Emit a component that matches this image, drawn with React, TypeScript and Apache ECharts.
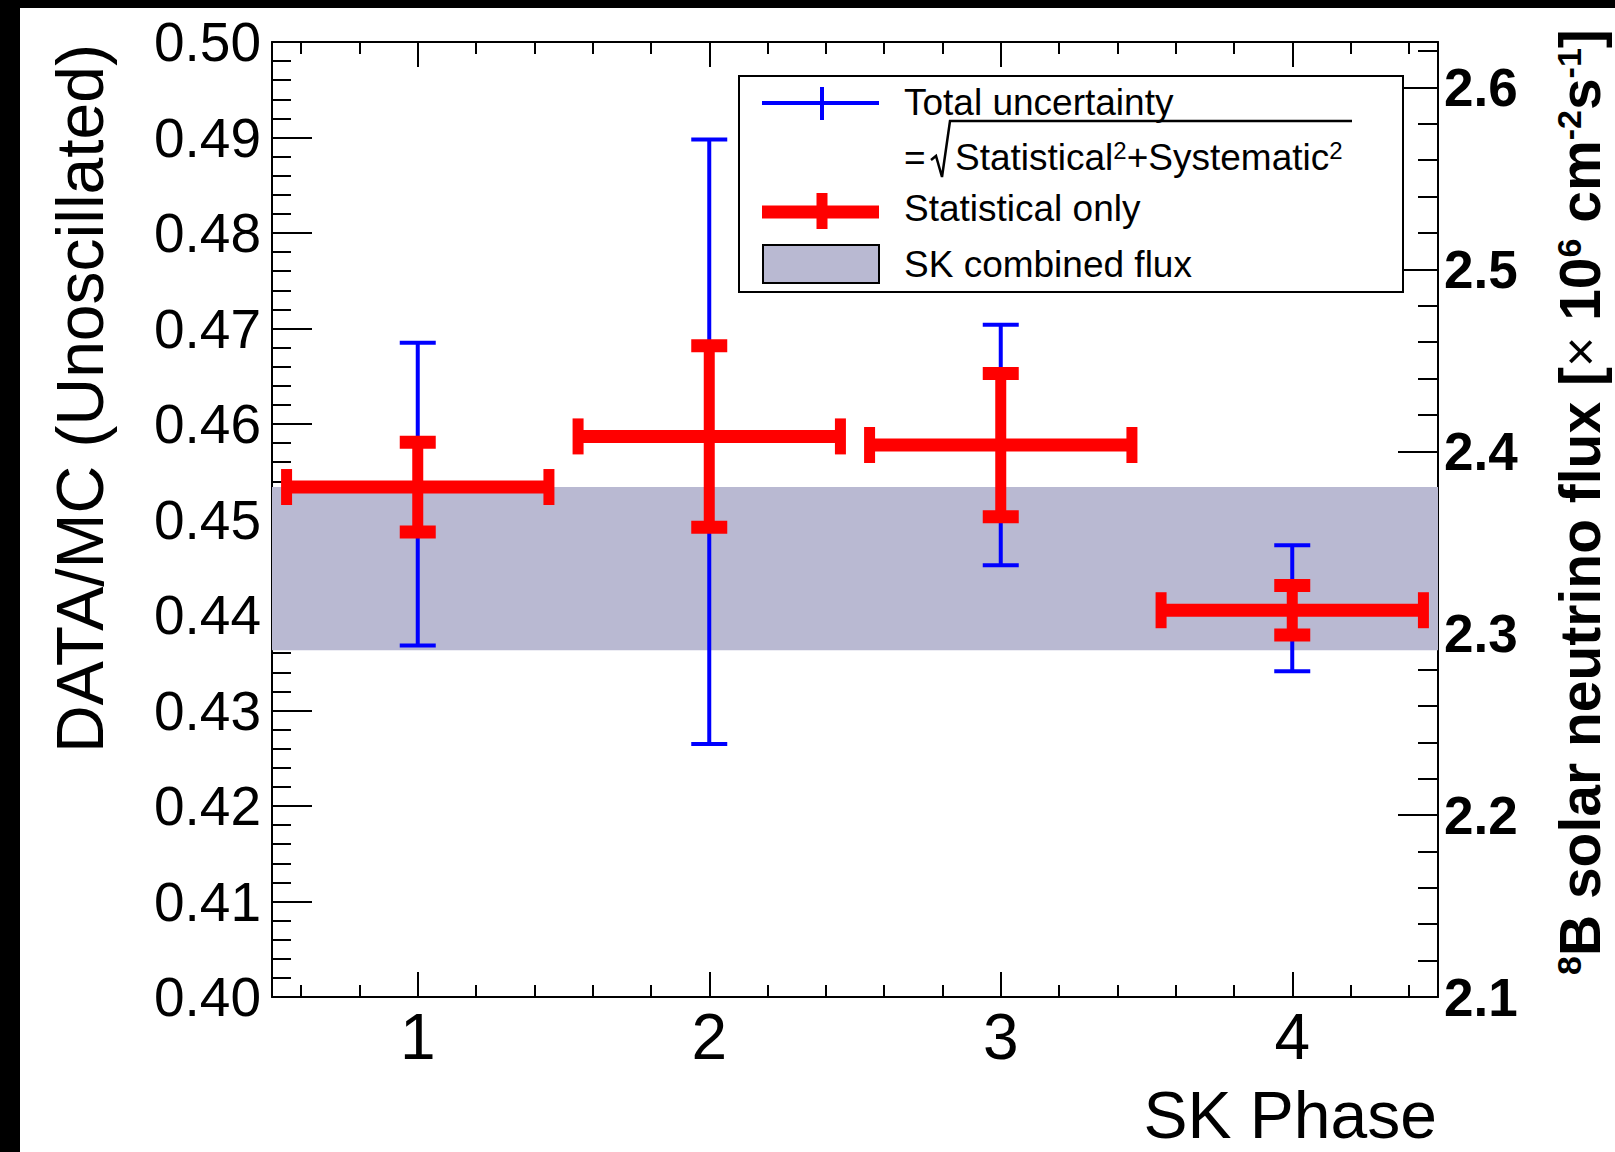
import React, { useEffect, useRef } from "react";
import * as echarts from "echarts";

// ---- data ----
const phases = [1, 2, 3, 4];
const ratio = [0.4534, 0.4587, 0.4578, 0.4405];
const statErr = [0.0047, 0.0095, 0.0075, 0.0026];
const totalErrUp = [0.0151, 0.0311, 0.0126, 0.0068];
const totalErrDown = [0.0166, 0.0322, 0.0126, 0.0064];
const phaseHalfWidth = [0.45, 0.45, 0.45, 0.45];
const combinedFluxBand = [0.4363, 0.4534];

const xExtent = [0.5, 4.5];
const xMajorTicks = [1, 2, 3, 4];
const xMinorTicks = [0.6, 0.8, 1.2, 1.4, 1.6, 1.8, 2.2, 2.4, 2.6, 2.8, 3.2, 3.4, 3.6, 3.8, 4.2, 4.4];
const yLeftExtent = [0.4, 0.5];
const yRightExtent = [2.1, 2.625];
const yRightMajorTicks = [2.1, 2.2, 2.3, 2.4, 2.5, 2.6];
const yRightMinorTicks = [
  2.12, 2.14, 2.16, 2.18, 2.22, 2.24, 2.26, 2.28, 2.32, 2.34, 2.36, 2.38,
  2.42, 2.44, 2.46, 2.48, 2.52, 2.54, 2.56, 2.58, 2.62,
];

const FONT = "'Liberation Sans', Arial, Helvetica, sans-serif";
const RED = "#ff0000";
const BLUE = "#0000ff";
const BAND = "#b9b9d2";

export default function App() {
  const ref = useRef<HTMLDivElement>(null);

  useEffect(() => {
    document.body.style.margin = "0";
    if (!ref.current) return;
    const chart = echarts.init(ref.current, undefined, { renderer: "svg" });

    const bandData = [[xExtent[0], xExtent[1], combinedFluxBand[0], combinedFluxBand[1]]];
    const totalData = phases.map((p, i) => [p, ratio[i], ratio[i] - totalErrDown[i], ratio[i] + totalErrUp[i]]);
    const statData = phases.map((p, i) => [
      p,
      ratio[i],
      p - phaseHalfWidth[i],
      p + phaseHalfWidth[i],
      ratio[i] - statErr[i],
      ratio[i] + statErr[i],
    ]);

    const line = { color: "#000", width: 2 };
    const xBase = { type: "value", min: xExtent[0], max: xExtent[1], splitLine: { show: false } };
    const yRightBase = { type: "value", min: yRightExtent[0], max: yRightExtent[1], splitLine: { show: false } };

    const option: any = {
      animation: false,
      backgroundColor: "#ffffff",
      grid: { left: 272, top: 42, width: 1166, height: 955, containLabel: false },
      xAxis: [
        {
          ...xBase,
          position: "bottom",
          axisLine: { show: true, lineStyle: line },
          axisTick: { show: true, inside: true, length: 25, lineStyle: line, customValues: xMajorTicks },
          axisLabel: {
            show: true,
            customValues: xMajorTicks,
            fontSize: 64,
            fontFamily: FONT,
            color: "#000",
            margin: 8,
            formatter: (v: number) => String(v),
          },
        },
        {
          ...xBase,
          position: "bottom",
          axisLine: { show: false },
          axisTick: { show: true, inside: true, length: 12, lineStyle: line, customValues: xMinorTicks },
          axisLabel: { show: false },
        },
        {
          ...xBase,
          position: "top",
          axisLine: { show: true, lineStyle: line },
          axisTick: { show: true, inside: true, length: 25, lineStyle: line, customValues: xMajorTicks },
          axisLabel: { show: false },
        },
        {
          ...xBase,
          position: "top",
          axisLine: { show: false },
          axisTick: { show: true, inside: true, length: 12, lineStyle: line, customValues: xMinorTicks },
          axisLabel: { show: false },
        },
      ],
      yAxis: [
        {
          type: "value",
          position: "left",
          min: yLeftExtent[0],
          max: yLeftExtent[1],
          interval: 0.01,
          splitLine: { show: false },
          axisLine: { show: true, lineStyle: line },
          axisTick: { show: true, inside: true, length: 40, lineStyle: line },
          minorTick: { show: true, splitNumber: 5, length: 19, lineStyle: line },
          axisLabel: {
            show: true,
            fontSize: 55,
            fontFamily: FONT,
            color: "#000",
            margin: 11,
            showMinLabel: true,
            showMaxLabel: true,
            formatter: (v: number) => v.toFixed(2),
          },
        },
        {
          ...yRightBase,
          position: "right",
          axisLine: { show: true, lineStyle: line },
          axisTick: { show: true, inside: true, length: 40, lineStyle: line, customValues: yRightMajorTicks },
          axisLabel: {
            show: true,
            customValues: yRightMajorTicks,
            fontSize: 53,
            fontWeight: "bold",
            fontFamily: FONT,
            color: "#000",
            margin: 6,
            formatter: (v: number) => v.toFixed(1),
          },
        },
        {
          ...yRightBase,
          position: "right",
          axisLine: { show: false },
          axisTick: { show: true, inside: true, length: 20, lineStyle: line, customValues: yRightMinorTicks },
          axisLabel: { show: false },
        },
      ],
      series: [
        {
          name: "SK combined flux",
          type: "custom",
          xAxisIndex: 0,
          yAxisIndex: 0,
          encode: { x: [0, 1], y: [2, 3] },
          data: bandData,
          z: 1,
          renderItem: (_p: any, api: any) => {
            const a = api.coord([api.value(0), api.value(3)]);
            const b = api.coord([api.value(1), api.value(2)]);
            return {
              type: "rect",
              shape: { x: a[0], y: a[1], width: b[0] - a[0], height: b[1] - a[1] },
              style: { fill: BAND },
            };
          },
        },
        {
          name: "Total uncertainty",
          type: "custom",
          xAxisIndex: 0,
          yAxisIndex: 0,
          encode: { x: 0, y: [1, 2, 3] },
          data: totalData,
          z: 2,
          renderItem: (_p: any, api: any) => {
            const x = api.value(0);
            const b = api.coord([x, api.value(2)]);
            const t = api.coord([x, api.value(3)]);
            const cap = 36;
            const st = { stroke: BLUE, lineWidth: 4 };
            return {
              type: "group",
              children: [
                { type: "line", shape: { x1: t[0], y1: t[1], x2: b[0], y2: b[1] }, style: st },
                { type: "line", shape: { x1: t[0] - cap / 2, y1: t[1], x2: t[0] + cap / 2, y2: t[1] }, style: st },
                { type: "line", shape: { x1: b[0] - cap / 2, y1: b[1], x2: b[0] + cap / 2, y2: b[1] }, style: st },
              ],
            };
          },
        },
        {
          name: "Statistical only",
          type: "custom",
          xAxisIndex: 0,
          yAxisIndex: 0,
          encode: { x: [0, 2, 3], y: [1, 4, 5] },
          data: statData,
          z: 3,
          renderItem: (_p: any, api: any) => {
            const x = api.value(0);
            const y = api.value(1);
            const c = api.coord([x, y]);
            const l = api.coord([api.value(2), y]);
            const r = api.coord([api.value(3), y]);
            const b = api.coord([x, api.value(4)]);
            const t = api.coord([x, api.value(5)]);
            const th = 13;
            const vw = 11;
            const cap = 36;
            const f = { fill: RED };
            return {
              type: "group",
              children: [
                { type: "rect", shape: { x: l[0], y: c[1] - th / 2, width: r[0] - l[0], height: th }, style: f },
                { type: "rect", shape: { x: c[0] - vw / 2, y: t[1], width: vw, height: b[1] - t[1] }, style: f },
                { type: "rect", shape: { x: c[0] - cap / 2, y: t[1] - th / 2, width: cap, height: th }, style: f },
                { type: "rect", shape: { x: c[0] - cap / 2, y: b[1] - th / 2, width: cap, height: th }, style: f },
                { type: "rect", shape: { x: l[0] - vw / 2, y: c[1] - cap / 2, width: vw, height: cap }, style: f },
                { type: "rect", shape: { x: r[0] - vw / 2, y: c[1] - cap / 2, width: vw, height: cap }, style: f },
              ],
            };
          },
        },
      ],
      graphic: [
        // black strips of the original screenshot
        { type: "rect", shape: { x: 0, y: 0, width: 1615, height: 8 }, style: { fill: "#000" }, z: 100 },
        { type: "rect", shape: { x: 0, y: 0, width: 20, height: 1152 }, style: { fill: "#000" }, z: 100 },
        // axis titles
        {
          type: "text",
          x: 80,
          y: 44,
          rotation: Math.PI / 2,
          style: {
            text: "DATA/MC (Unoscillated)",
            fontSize: 66,
            fontFamily: FONT,
            fill: "#000",
            align: "right",
            textAlign: "right",
            verticalAlign: "middle",
            textVerticalAlign: "middle",
          },
        },
        {
          type: "text",
          x: 1437,
          y: 1115,
          style: {
            text: "SK Phase",
            fontSize: 66,
            fontFamily: FONT,
            fill: "#000",
            align: "right",
            textAlign: "right",
            verticalAlign: "middle",
            textVerticalAlign: "middle",
          },
        },
        {
          type: "text",
          x: 1580,
          y: 975,
          rotation: Math.PI / 2,
          style: {
            text: "{sup|8}B solar neutrino flux [{n|×} 10{sup|6} cm{sup|-2}s{sup|-1}]",
            fontSize: 57,
            fontWeight: "bold",
            fontFamily: FONT,
            fill: "#000",
            align: "left",
            textAlign: "left",
            verticalAlign: "middle",
            textVerticalAlign: "middle",
            rich: {
              sup: { fontSize: 34, fontWeight: "bold", fontFamily: FONT, fill: "#000", color: "#000", verticalAlign: "top" },
              n: { fontSize: 52, fontWeight: "normal", fontFamily: FONT, fill: "#000", color: "#000" },
            },
          },
        },
        // legend
        {
          type: "rect",
          shape: { x: 739, y: 76, width: 664, height: 216 },
          style: { fill: "#fff", stroke: "#000", lineWidth: 2 },
          z: 50,
        },
        { type: "line", shape: { x1: 762, y1: 103, x2: 879, y2: 103 }, style: { stroke: BLUE, lineWidth: 4 }, z: 51 },
        { type: "line", shape: { x1: 822, y1: 87, x2: 822, y2: 120 }, style: { stroke: BLUE, lineWidth: 4 }, z: 51 },
        {
          type: "text",
          x: 904,
          y: 102,
          z: 51,
          style: { text: "Total uncertainty", fontSize: 37, fontFamily: FONT, fill: "#000", verticalAlign: "middle", textVerticalAlign: "middle" },
        },
        {
          type: "text",
          x: 904,
          y: 157,
          z: 51,
          style: { text: "=", fontSize: 37, fontFamily: FONT, fill: "#000", verticalAlign: "middle", textVerticalAlign: "middle" },
        },
        {
          type: "polyline",
          z: 51,
          shape: { points: [[931, 160], [936, 156], [942, 177], [950, 121], [1352, 121]] },
          style: { stroke: "#000", lineWidth: 2.5, fill: null },
        },
        {
          type: "text",
          x: 955,
          y: 157,
          z: 51,
          style: {
            text: "Statistical{s|2}+Systematic{s|2}",
            fontSize: 37,
            fontFamily: FONT,
            fill: "#000",
            verticalAlign: "middle",
            textVerticalAlign: "middle",
            rich: { s: { fontSize: 24, fontFamily: FONT, fill: "#000", color: "#000", verticalAlign: "top" } },
          },
        },
        { type: "rect", shape: { x: 762, y: 205.5, width: 117, height: 13 }, style: { fill: RED }, z: 51 },
        { type: "rect", shape: { x: 816.5, y: 193, width: 11, height: 36 }, style: { fill: RED }, z: 51 },
        {
          type: "text",
          x: 904,
          y: 208,
          z: 51,
          style: { text: "Statistical only", fontSize: 37, fontFamily: FONT, fill: "#000", verticalAlign: "middle", textVerticalAlign: "middle" },
        },
        {
          type: "rect",
          shape: { x: 763, y: 245, width: 116, height: 38 },
          style: { fill: BAND, stroke: "#000", lineWidth: 2 },
          z: 51,
        },
        {
          type: "text",
          x: 904,
          y: 264,
          z: 51,
          style: { text: "SK combined flux", fontSize: 37, fontFamily: FONT, fill: "#000", verticalAlign: "middle", textVerticalAlign: "middle" },
        },
      ],
    };

    chart.setOption(option);
    return () => chart.dispose();
  }, []);

  return <div ref={ref} style={{ width: 1615, height: 1152, background: "#fff" }} />;
}
